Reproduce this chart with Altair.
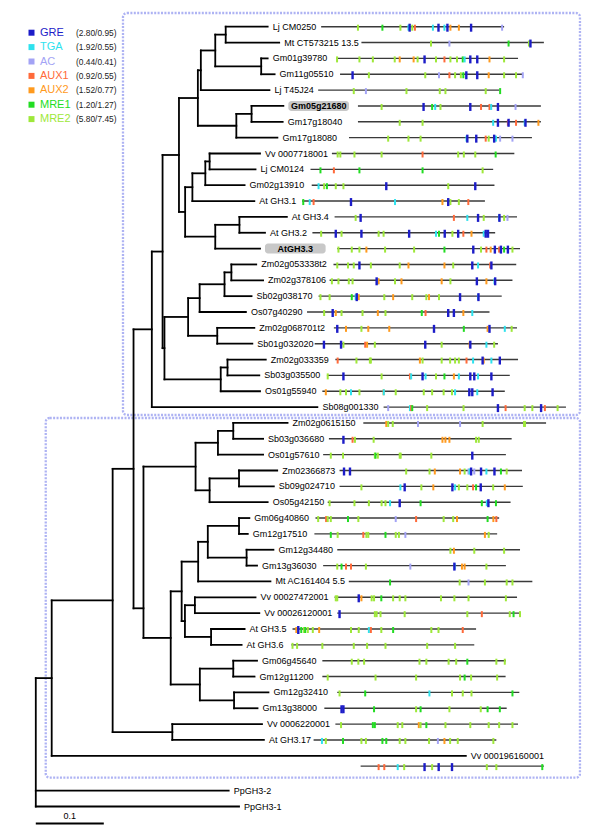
import altair as alt
import pandas as pd

# ---------------- data ----------------
LEAVES = [
    "Lj CM0250", "Mt CT573215 13.5", "Gm01g39780", "Gm11g05510", "Lj T45J24",
    "Gm05g21680", "Gm17g18040", "Gm17g18080", "Vv 0007718001", "Lj CM0124",
    "Gm02g13910", "At GH3.1", "At GH3.4", "At GH3.2", "AtGH3.3",
    "Zm02g053338t2", "Zm02g378106", "Sb02g038170", "Os07g40290", "Zm02g068701t2",
    "Sb01g032020", "Zm02g033359", "Sb03g035500", "Os01g55940", "Sb08g001330",
    "Zm02g0615150", "Sb03g036680", "Os01g57610", "Zm02366873", "Sb09g024710",
    "Os05g42150", "Gm06g40860", "Gm12g17510", "Gm12g34480", "Gm13g36030",
    "Mt AC161404 5.5", "Vv 00027472001", "Vv 00026120001", "At GH3.5", "At GH3.6",
    "Gm06g45640", "Gm12g11200", "Gm12g32410", "Gm13g38000", "Vv 0006220001",
    "At GH3.17", "Vv 000196160001", "PpGH3-2", "PpGH3-1",
]
HIGHLIGHT = ["Gm05g21680", "AtGH3.3"]

# tip depth of each leaf (tree layout units)
TIP_X = [
    269.2, 280.8, 269.2, 276.2, 271, 285, 284.3, 279, 261.5, 257,
    246, 255.8, 288.5, 266.5, 261.5, 257.7, 264.6, 253, 247.3, 255.8,
    253.8, 267.3, 260.8, 261.5, 319.2, 289.2, 264.6, 264.6, 278.8, 275.4,
    269.2, 250.8, 249.2, 275, 258.5, 272, 257, 260.8, 246, 243,
    258.5, 256, 270, 259, 263.5, 265.4, 468.5, 230, 240.4,
]
LEAF_ROW = list(range(47)) + [48.2, 49.2]

# internal nodes: (depth, [children], optional own y)
TREE = (36, [
    (52, [
        (113.3, [
            (134.3, [
                (152.7, [
                    (163.5, [
                        (180, [
                            (199, [
                                (202, [(216.5, [(227, [0, 1]), (262.7, [2, 3])]), 4]),
                                (237.7, [(253, [5, 6]), 7]),
                            ]),
                            (186.2, [
                                (193.5, [(206.5, [(210.8, [8, 9]), 10]), 11]),
                                (216.5, [(240.8, [12, 13]), 14]),
                            ]),
                        ]),
                        (165.4, [
                            (189.2, [
                                (200.8, [(225.8, [(232.7, [15, 16]), 17]), 18]),
                                (218.5, [19, 20]),
                            ]),
                            (222, [(228.8, [21, 22]), 23]),
                        ]),
                    ]),
                    24,
                ]),
                (144.3, [
                    (196.7, [
                        (219.2, [(234.6, [25, 26]), 27]),
                        (210.8, [(240.4, [28, 29]), 30]),
                    ]),
                    (171.7, [
                        (182.7, [
                            (199.3, [(209, [(240.4, [31, 32]), (248, [33, 34])]), 35]),
                            (186, [(196, [36, 37]), (212.3, [38, 39])]),
                        ]),
                        (201, [(234.6, [40, 41]), (235.4, [42, 43])]),
                    ]),
                ], 608.3),
            ]),
            (173.3, [44, 45]),
        ]),
        46,
    ]),
    47, 48,
])

# promoter maps (one per leaf 0..46)
PROM_START = [
    323, 363.5, 338.5, 342, 320, 360, 360, 351, 333.8, 312.3,
    313.5, 303.8, 336.5, 314.2, 339.2, 335.4, 331.5, 320.4, 308.8, 335.8,
    316.5, 337.3, 328.8, 324.2, 385.8, 365.4, 330.8, 325, 341.5, 341.5,
    329.6, 317.3, 316.2, 339.2, 325, 350.8, 336.5, 339.2, 294.2, 293,
    324.2, 324.2, 339.2, 326.2, 337.3, 315.4, 362.7,
]
PROM_END = [
    507, 547, 521, 526, 502, 544, 544, 535, 517.3, 496,
    497.3, 487.7, 520, 498, 523, 519.2, 515.4, 504.6, 492.3, 520,
    500.8, 521, 512.7, 507.7, 569.2, 549.2, 514.6, 508.8, 525, 525.8,
    513.5, 502, 500, 523, 508.8, 535.4, 520, 523.8, 478.8, 477,
    508.8, 508.5, 522.3, 509.6, 521, 499.2, 547,
]
PROM_ROW = list(range(46)) + [46.65]

# element codes: G=GRE T=TGA C=AC A=AUX1 B=AUX2 M=MRE1 N=MRE2
PROM_ELEMENTS = [
    "N360 M384.6 N402.7 T410.8 G412 N414.6 A417.3 T435.4 G441 T447 G450 B453 B461.5 G473.8 C505",
    "N433.5 C452 M511.5 N532 G533.5",
    "N339 N361.5 N375 N397 B402 B416 N420 G427 N438.5 A447 N453 N459.6 M465.4 T467.3 G473 G480 B492.3 N507",
    "G354.6 N371 N427.7 C441.5 A452 N457.7 N463.5 M466 G469 G480 B491.5 N507 N519 C525.8",
    "N355.8 C368 N408.8 N442.3 N448 N488.5 M503",
    "N383.8 G426 M434.6 T437.7 N443 G473 A483.8 A492.3 T494 G500.8 C518.5",
    "N402 N425 T496 G500.8 A510.8 G511.5 A519 T527.7 G528.5 B541.5",
    "N390.4 N410.8 N423 T469.2 G470 G479 A488.5 N491.5 G497 T498.8 C503 C515.4",
    "N339.6 N342.3 N356.5 N383.8 A425 N460.8 N466.5 N478 M498.5",
    "M322.3 A335.8 M361.5 M425 N485.4",
    "T320.4 N326 M328.8 N337.7 N345.4 G388.5 N450.8 G478",
    "M305 T311.5 A315.4 G353 T397.3 B445 G450.8 N453 N461.5 A471",
    "N357.7 G362.7 A456.5 T470 G480.8 N486.5 T502 G502.3 N507 C510.4",
    "N323 G337.7 N343.5 G363.5 N380.8 N385.8 G411.5 T438.5 M441.5 G447.3 N455 G460.8 A466 B474.2 T486.5 G488.5 G490.8",
    "N340.4 N353.8 N361.5 B368.5 N387.3 N416.5 M447 G476 N483.8 A489.2 B493.5 G497.7 A502 G503.8 M507 G510.8 N515.4",
    "N339.2 N350 N355.8 G361.5 N373 N402 B410.8 B447 N455.8 G475 T480.8 A493 G494.2",
    "N333.8 N340.4 N350.8 N354.6 G378.8 T380 B380.8 N397.3 B403.8 B444.2 N453 G479.6 B489.2 T497.3 G498",
    "N322.3 N331.5 M353.8 T357.7 G358.8 B360.8 N386.5 B395.4 N414.6 N428.8 B431.5 N441.5 G462.7 T480.8 G481.2",
    "N326 G334.6 B337.7 N343.5 N364.6 B380 N387.7 M424.2 A428 G450.8 G456.5 B466 T475",
    "G339.2 B348 N363.5 B370.4 B391.5 G436.5 M466.5 B490.4 G492.3 T507.7 N514.6",
    "G325.8 G343 N345.4 A367.3 B369.2 N377 G427.7 N444.2 B472.3 G473 T489.2 N497",
    "A339.6 N358.5 N372 N373 B422.3 N425 N444.2 N452.7 N457.7 N461.5 A469.2 T475.8 G485.4 B486.5 T494.2 G502.7",
    "N329.6 G345.4 N383.8 A412.3 T413.5 G425 T428 N438.5 M447 B456.5 T461.5 G473 G477 T480.8 G494.2",
    "B327.7 N342.3 N348 T353 N361.5 B385.8 T386 N398 N426.2 N434.6 N446.2 N454.6 T457.7 G472 G475 T480 G495.4",
    "C390.4 T412.3 A413.5 M414.6 N429.6 N466.2 G500.8 A508.5 N527.7 N535.4 G544.2 A548 N560.8",
    "B388.5 N390.4 N395 C420.4 C462.7 N485.4 N527 N528",
    "G345.4 A354.6 N357 N375.8 B445 B448 B452 N478.8 N481.5",
    "N332.7 N345 N377 M377.7 N380 N402 N403 N433.8 G475",
    "G346 G352 N408.5 N432 B437.3 B462.7 N467.3 C471.2 T472.3 G473.8 C477 G483.8 T489.2 G497.3 M503.8 N509.6",
    "N363.5 T402.7 G407 N423.8 B435.8 G455 T457.7 N461.5 N470 A475.8 M478.8 G483.5 N496 B507.7",
    "N331.5 N356.5 N371 N383.8 N387.7 T392.3 G402 M423 M484.6 T489.6 G491.2 M498.8",
    "N320 A328 N329.6 N332.7 M350 N360.4 C398 A418.5 N446.2 N455.8 B459.6 M490.4 B496.2 A499.2",
    "M332.7 N339.6 A365.4 N368.5 N370.4 M387.7 N398 N401.2 C407.7 B487.7 N491.5",
    "N453 B456.5 N477 N507",
    "N339.2 M343.5 A348 A353 N368 C412.7 G457 T457.3 B464.6 B467.3 N489.2",
    "M392.3 N462.3 C471.2 N487.7 N509.6 N515.4",
    "N337.7 N339.2 G360.8 B363.5 N373.8 N376.2 M383.5 N395.4 N402 N407.7 N443.5 N457 N471.2 N508.8",
    "G341.5 N377 N378.8 N382.7 N407 N470 A484.6 N512.7 M516.5 N523",
    "B298 G300 M303 N305.8 M307 N309.6 N314.6 B321 N353 N360.8 T371 A373 N383.5 M395.4 N433.8 N441 A465.4",
    "N294.2 N298.8 N324.2 N355.8 N369.2 N387.7 N429.6 N457.7",
    "N353.8 N360.4 N366.2 N421.9 N428.8 N451.2 N458.8 M470 N499.2 N507.7",
    "N329.6 N377.7 N418.5 N462.7 M467.3 N473.8 N500",
    "N341.5 M367.3 T431.9 N454.6 N465.4 N474.2 M515.4",
    "G343.5 G345.4 M376.2 N418.5 M423 N452 N483.5 M490.4 M502.7",
    "N343 M375 M377 N400 N404.6 B421.2 N423 M428.8 N448 N473 N491.5 N502 N515.4",
    "T323.8 N327.7 M345 N363.5 N368 M384.6 M388.5 N402 N407.7 N431.5 C440.4 B447 N452.7 N460.4 N496.2",
    "A380.8 A386.5 T400 N406.5 G427 N434.6 G441.2 G454.6 N489.6 N499.2 M545.4",
]

ELEMENT_CODES = ["G", "T", "C", "A", "B", "M", "N"]
ELEMENT_TYPES = ["GRE", "TGA", "AC", "AUX1", "AUX2", "MRE1", "MRE2"]
ELEMENT_COLORS = ["#1c1cc8", "#2ee2ee", "#a3a3f5", "#ff6a3a", "#ff9a1e", "#22dd22", "#9ee83a"]
ELEMENT_STATS = ["(2.80/0.95)", "(1.92/0.55)", "(0.44/0.41)", "(0.92/0.55)",
                 "(1.52/0.77)", "(1.20/1.27)", "(5.80/7.45)"]

SCALE_BAR_VALUE = 0.1
UNITS_PER_SUBST = 684.0  # tree layout units per substitution/site

# ---------------- layout helpers ----------------
ROW0, ROW_STEP = 26.7, 15.85


def row_y(r):
    return ROW0 + r * ROW_STEP


segs = []


def layout(node, parent_x):
    if isinstance(node, int):
        x = TIP_X[node]
        y = row_y(LEAF_ROW[node])
    else:
        x, kids = node[0], node[1]
        ys = [layout(k, x) for k in kids]
        segs.append(dict(x=x, x2=x, y=min(ys), y2=max(ys)))
        y = node[2] if len(node) > 2 else (min(ys) + max(ys)) / 2
    if parent_x is not None:
        segs.append(dict(x=parent_x, x2=x, y=y, y2=y))
    return y


layout(TREE, None)
seg_df = pd.DataFrame(segs)

leaf_df = pd.DataFrame({
    "name": LEAVES,
    "x": TIP_X,
    "y": [row_y(r) for r in LEAF_ROW],
})
leaf_df["hl"] = leaf_df["name"].isin(HIGHLIGHT)
plain_df = leaf_df[~leaf_df["hl"]]
hl_df = leaf_df[leaf_df["hl"]].copy()
HL_GAP, HL_W, HL_H = 5, 61, 5
hl_df["bx"] = hl_df["x"] + HL_GAP
hl_df["bx2"] = hl_df["x"] + HL_GAP + HL_W
hl_df["cx"] = hl_df["x"] + HL_GAP + HL_W / 2
hl_df["by"] = hl_df["y"] - HL_H
hl_df["by2"] = hl_df["y"] + HL_H

prom_df = pd.DataFrame({
    "x": PROM_START, "x2": PROM_END, "y": [row_y(r) for r in PROM_ROW],
})

code_map = dict(zip(ELEMENT_CODES, ELEMENT_TYPES))
el_rows = []
for i, s in enumerate(PROM_ELEMENTS):
    y = row_y(PROM_ROW[i])
    for tok in s.split():
        el_rows.append(dict(type=code_map[tok[0]], x=float(tok[1:]), y=y))
el_df = pd.DataFrame(el_rows)
gre_df = el_df[el_df["type"] == "GRE"]
oth_df = el_df[el_df["type"] != "GRE"]

LEG_Y0, LEG_STEP = 32.7, 14.4
leg_df = pd.DataFrame({
    "type": ELEMENT_TYPES,
    "stat": ELEMENT_STATS,
    "y": [LEG_Y0 + i * LEG_STEP for i in range(len(ELEMENT_TYPES))],
})

root_x = TREE[0]
sb_df = pd.DataFrame({
    "x": [root_x], "x2": [root_x + SCALE_BAR_VALUE * UNITS_PER_SUBST],
    "y": [823.5], "label": [str(SCALE_BAR_VALUE)],
})

box_df = pd.DataFrame({
    "x": [123.7, 46.0], "x2": [583.3, 583.3],
    "y": [13.0, 418.0], "y2": [415.0, 777.7],
})

# ---------------- chart ----------------
xs = alt.Scale(domain=[8.05, 595.4], nice=False, zero=False)
ys = alt.Scale(domain=[8, 827], reverse=True, nice=False, zero=False)
X = lambda f="x": alt.X(f"{f}:Q", scale=xs, axis=None)
Y = lambda f="y": alt.Y(f"{f}:Q", scale=ys, axis=None)
color = alt.Color("type:N", scale=alt.Scale(domain=ELEMENT_TYPES, range=ELEMENT_COLORS), legend=None)
FONT = "Liberation Sans"

boxes = alt.Chart(box_df).mark_rect(
    fillOpacity=0, stroke="#aeb3f3", strokeWidth=2.3, strokeDash=[2, 1.4], cornerRadius=4
).encode(x=X(), x2="x2:Q", y=Y(), y2="y2:Q")

tree = alt.Chart(seg_df).mark_rule(color="black", strokeWidth=1.8, strokeCap="square").encode(
    x=X(), x2="x2:Q", y=Y(), y2="y2:Q")

prom = alt.Chart(prom_df).mark_rule(color="#3a3a3a", strokeWidth=1.4).encode(
    x=X(), x2="x2:Q", y=Y())

ticks_o = alt.Chart(oth_df).mark_tick(orient="vertical", thickness=2, size=6, yOffset=1, opacity=1).encode(
    x=X(), y=Y(), color=color)
ticks_g = alt.Chart(gre_df).mark_tick(orient="vertical", thickness=2.4, size=8, yOffset=1, opacity=1).encode(
    x=X(), y=Y(), color=color)

labels = alt.Chart(plain_df).mark_text(
    align="left", baseline="middle", dx=5, fontSize=9, font=FONT, color="black"
).encode(x=X(), y=Y(), text="name:N")

hl_boxes = alt.Chart(hl_df).mark_rect(color="#c8c8c8", cornerRadius=3).encode(
    x=X("bx"), x2="bx2:Q", y=Y("by"), y2="by2:Q")
hl_labels = alt.Chart(hl_df).mark_text(
    align="center", baseline="middle", fontSize=9, font=FONT, fontWeight="bold", color="black"
).encode(x=X("cx"), y=Y(), text="name:N")

leg_sq = alt.Chart(leg_df).mark_square(size=36, opacity=1).encode(
    x=alt.value(23.5), y=Y(), color=color)
leg_txt = alt.Chart(leg_df).mark_text(
    align="left", baseline="middle", fontSize=11, font=FONT
).encode(x=alt.value(32), y=Y(), text="type:N", color=color)
leg_stat = alt.Chart(leg_df).mark_text(
    align="left", baseline="middle", fontSize=8.4, font=FONT, color="#222"
).encode(x=alt.value(68), y=Y(), text="stat:N")

sbar = alt.Chart(sb_df).mark_rule(color="black", strokeWidth=1.8).encode(x=X(), x2="x2:Q", y=Y())
slab = alt.Chart(sb_df).mark_text(
    align="center", baseline="bottom", dy=-3, fontSize=9, font=FONT, color="black"
).encode(x=alt.X("xm:Q", scale=xs, axis=None), y=Y(), text="label:N").transform_calculate(
    xm="(datum.x + datum.x2) / 2")

chart = alt.layer(
    boxes, tree, prom, ticks_o, ticks_g, hl_boxes, labels, hl_labels,
    leg_sq, leg_txt, leg_stat, sbar, slab,
).properties(
    width=584, height=819, padding=0,
    autosize=alt.AutoSizeParams(type="none"),
).configure_view(stroke=None)

chart.save("out.html", embed_options={"renderer": "svg", "actions": False})
